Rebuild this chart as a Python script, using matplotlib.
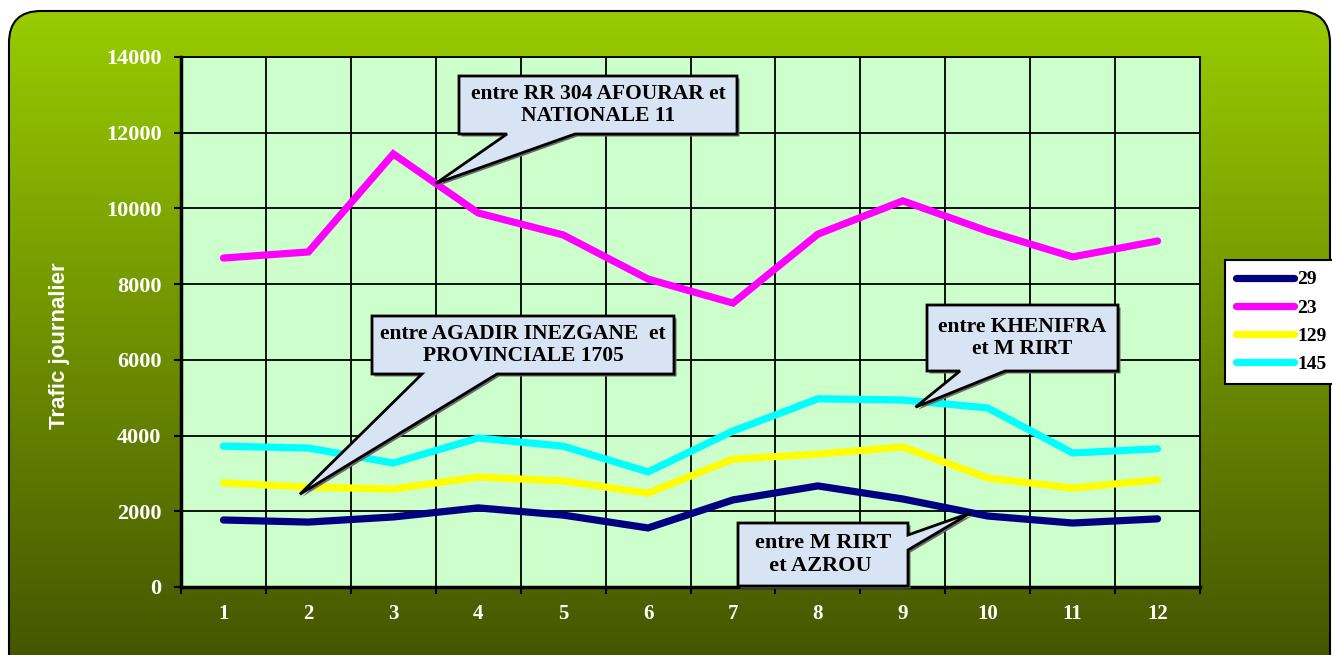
import numpy as np
import matplotlib
matplotlib.use("Agg")
import matplotlib.pyplot as plt
from matplotlib.patches import FancyBboxPatch, Polygon
from matplotlib.lines import Line2D

# data
mois = list(range(1, 13))
serie_29 = [1770, 1715, 1850, 2090, 1900, 1560, 2300, 2670, 2325, 1875, 1690, 1800]
serie_23 = [8690, 8850, 11440, 9880, 9300, 8135, 7500, 9320, 10200, 9400, 8720, 9140]
serie_129 = [2750, 2640, 2590, 2905, 2800, 2480, 3380, 3510, 3700, 2880, 2615, 2830]
serie_145 = [3720, 3670, 3275, 3935, 3720, 3040, 4120, 4970, 4940, 4730, 3540, 3650]

noms = ["29", "23", "129", "145"]
couleurs = ["#000080", "#FF00FF", "#FFFF00", "#00FFFF"]

W, H = 1332, 655
fig = plt.figure(figsize=(W / 100, H / 100), dpi=100)
fig.patch.set_facecolor("white")

# background with rounded frame and vertical gradient
bg = fig.add_axes([0, 0, 1, 1], zorder=0)
bg.set_xlim(0, W)
bg.set_ylim(H, 0)
bg.axis("off")
frame = FancyBboxPatch((9, 11), 1321, 680, boxstyle="round,pad=0,rounding_size=32",
                       facecolor="none", edgecolor="black", lw=1.5, zorder=3)
bg.add_patch(frame)
top = np.array([153, 204, 0]) / 255
bot = np.array([70, 86, 0]) / 255
t = np.linspace(0, 1, 256)[:, None, None]
grad = top * (1 - t) + bot * t
grad = np.repeat(grad, 2, axis=1)
im = bg.imshow(grad, extent=(9, 1330, 655, 11), aspect="auto", zorder=1)
im.set_clip_path(frame)

# main plot
x0, x1, y0, y1 = 181, 1200, 57, 587
ax = fig.add_axes([x0 / W, 1 - y1 / H, (x1 - x0) / W, (y1 - y0) / H], zorder=1)
ax.set_facecolor("#CCFFCC")
for vals, c in zip([serie_29, serie_23, serie_129, serie_145], couleurs):
    ax.plot(mois, vals, color=c, lw=5.2, solid_capstyle="round", solid_joinstyle="miter", zorder=3)

ax.set_xlim(0.5, 12.5)
ax.set_ylim(0, 14000)
ax.set_yticks(range(0, 14001, 2000))
ax.set_xticks(mois)
ax.set_xticks(np.arange(0.5, 12.6, 1), minor=True)
ax.grid(True, axis="y", color="black", lw=1.3)
ax.grid(True, axis="x", which="minor", color="black", lw=1.3)
ax.set_axisbelow(True)
ax.tick_params(axis="x", which="major", length=0, pad=12)
ax.tick_params(axis="x", which="minor", length=5, width=1.5, color="black")
ax.tick_params(axis="y", length=5, width=1.5, color="black", pad=9)
for s in ["left", "bottom"]:
    ax.spines[s].set_linewidth(2.5)
for s in ["top", "right"]:
    ax.spines[s].set_linewidth(1.3)
for lab in ax.get_xticklabels():
    lab.set_fontsize(15)
for lab in ax.get_yticklabels():
    lab.set_fontsize(16)
for lab in ax.get_xticklabels() + ax.get_yticklabels():
    lab.set_fontfamily("Liberation Serif")
    lab.set_fontweight("bold")
    lab.set_color("white")

# legend
handles = [Line2D([], [], color=c, lw=5.2, solid_capstyle="round") for c in couleurs]
leg = fig.legend(handles, noms, loc="upper left", bbox_to_anchor=(1225 / W, 1 - 260 / H),
                 frameon=True, fancybox=False, framealpha=1, handlelength=3.0,
                 handletextpad=0.15, borderpad=0.55, labelspacing=0.55, borderaxespad=0,
                 prop={"family": "Liberation Serif", "weight": "bold", "size": 14})
leg.get_frame().set_edgecolor("black")
leg.get_frame().set_linewidth(1.5)

# callouts, drawn in pixel coordinates over the whole figure
ov = fig.add_axes([0, 0, 1, 1], zorder=5)
ov.set_xlim(0, W)
ov.set_ylim(H, 0)
ov.axis("off")
ov.patch.set_alpha(0)

# y axis title
ov.text(60, 346, "Trafic journalier", rotation=90, ha="center", va="center",
        fontfamily="Liberation Sans", fontweight="bold", fontsize=16, color="white")


def to_px(xd, yd):
    p = ax.transData.transform((xd, yd))
    return ov.transData.inverted().transform(p)


def bulle(box, base, tip, texte, fs=15.5, side="bottom"):
    l, tp, r, b = box
    tx, ty = to_px(*tip)
    if side == "bottom":
        pts = [(l, tp), (r, tp), (r, b), (base[1], b), (tx, ty), (base[0], b), (l, b)]
    else:
        pts = [(l, tp), (r, tp), (r, base[0]), (tx, ty), (r, base[1]), (r, b), (l, b)]
    sh = Polygon([(px + 2.5, py + 2.5) for px, py in pts], closed=True, facecolor="#6a6a6a",
                 edgecolor="none", zorder=1)
    ov.add_patch(sh)
    ov.add_patch(Polygon(pts, closed=True, facecolor="#D8E4F4", edgecolor="black",
                         lw=2, joinstyle="miter", zorder=2))
    ov.text((l + r) / 2, (tp + b) / 2, texte, ha="center", va="center", fontsize=fs,
            fontfamily="Liberation Serif", fontweight="bold", linespacing=1.15, zorder=3)


bulle((459, 76, 737, 134), (507, 575), (3.5, 10660),
      "entre RR 304 AFOURAR et\nNATIONALE 11")
bulle((372, 316, 674, 374), (422, 497), (1.9, 2450),
      "entre AGADIR INEZGANE  et\nPROVINCIALE 1705")
bulle((927, 305, 1118, 371), (960, 1005), (9.15, 4750),
      "entre KHENIFRA\net M RIRT")
bulle((738, 523, 908, 586), (535, 550), (9.8, 1960),
      "entre M RIRT\n  et AZROU   ", fs=16, side="right")

fig.savefig("out.png", dpi=100, facecolor=fig.get_facecolor())
